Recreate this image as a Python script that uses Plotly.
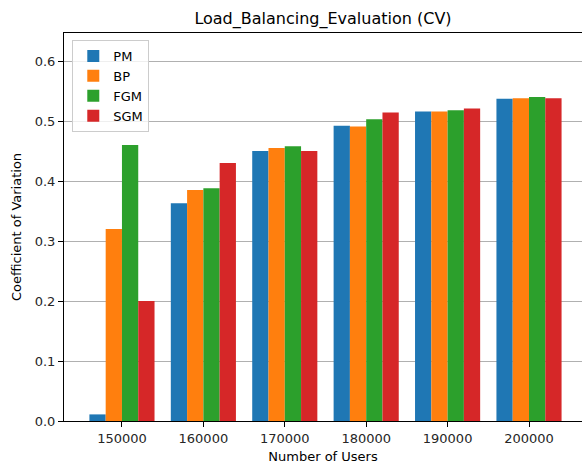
import plotly.graph_objects as go

categories = ["150000", "160000", "170000", "180000", "190000", "200000"]
series_names = ["PM", "BP", "FGM", "SGM"]
pm = [0.011, 0.363, 0.450, 0.492, 0.516, 0.537]
bp = [0.320, 0.385, 0.455, 0.491, 0.516, 0.538]
fgm = [0.460, 0.388, 0.458, 0.503, 0.518, 0.540]
sgm = [0.200, 0.430, 0.450, 0.514, 0.521, 0.538]
colors = ["#1f77b4", "#ff7f0e", "#2ca02c", "#d62728"]

fig = go.Figure()
for name, vals, col in zip(series_names, [pm, bp, fgm, sgm], colors):
    fig.add_trace(go.Bar(x=categories, y=vals, name=name,
                         marker=dict(color=col, line=dict(width=0))))

font = "DejaVu Sans, sans-serif"
fig.update_layout(
    width=582, height=466,
    margin=dict(l=64, r=0, t=33, b=45, autoexpand=False),
    plot_bgcolor="white", paper_bgcolor="white",
    barmode="group", bargap=0.2, bargroupgap=0,
    font=dict(family=font, size=13, color="#262626"),
    title=dict(text="Load_Balancing_Evaluation (CV)", x=323 / 582, xanchor="center",
               y=1 - 18 / 466, yanchor="middle", font=dict(size=16, color="black")),
    legend=dict(x=0.016, y=0.982, xanchor="left", yanchor="top",
                bgcolor="rgba(255,255,255,0.8)", bordercolor="#cccccc", borderwidth=1,
                font=dict(size=13, color="black"), tracegroupgap=2, itemwidth=30),
    showlegend=True,
)
fig.update_xaxes(
    type="category", range=[-0.712, 5.651], automargin=False,
    showline=True, linecolor="black", linewidth=1, mirror=True,
    ticks="outside", ticklen=5, tickcolor="black",
    showgrid=False,
    title=dict(text="Number of Users", standoff=7, font=dict(size=13, color="black")),
)
fig.update_yaxes(
    range=[0, 0.6467], automargin=False,
    tickvals=[0, 0.1, 0.2, 0.3, 0.4, 0.5, 0.6], tickformat=".1f",
    showline=True, linecolor="black", linewidth=1, mirror=False,
    ticks="outside", ticklen=5, tickcolor="black",
    showgrid=True, gridcolor="#b0b0b0", gridwidth=1,
    zeroline=False,
    title=dict(text="Coefficient of Variation", standoff=10, font=dict(size=13, color="black")),
)

fig.write_html("out.html", config={"displayModeBar": False},
               post_script="document.body.style.margin='0';document.body.style.overflow='hidden';")
